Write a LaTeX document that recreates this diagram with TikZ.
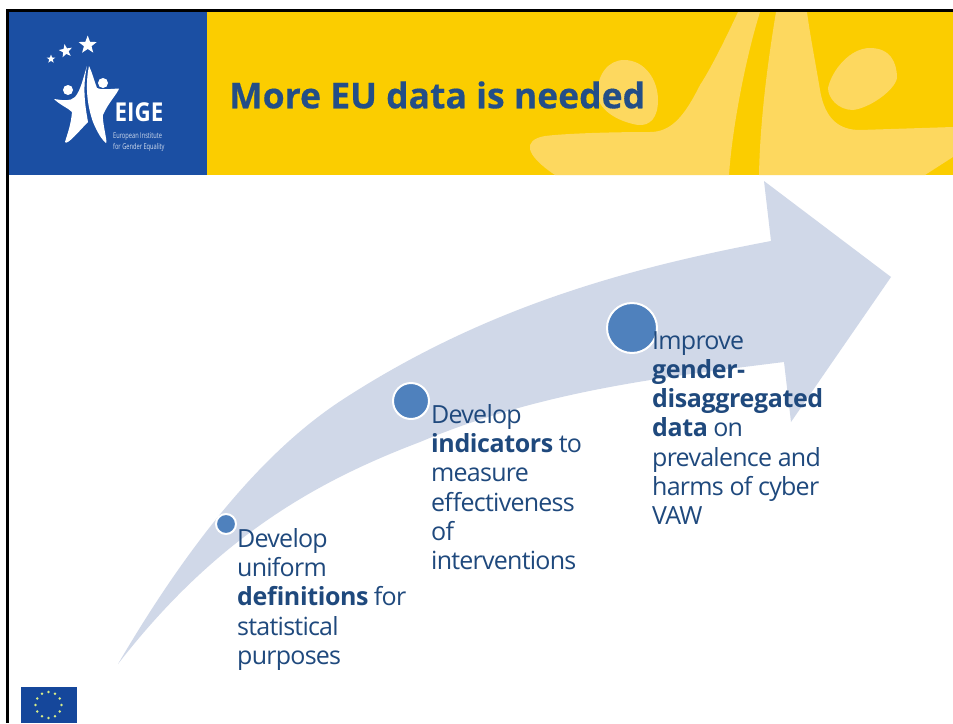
\documentclass[tikz,border=0pt]{standalone}
\usepackage{fontspec}
\setmainfont{Open Sans}
\newfontfamily\bodyfont[LetterSpace=-3,BoldFeatures={LetterSpace=-1.5}]{Open Sans}
\usetikzlibrary{shapes.geometric}
\definecolor{eigeblue}{HTML}{1B4FA3}
\definecolor{eigeyellow}{HTML}{FBCD00}
\definecolor{paleyellow}{HTML}{FDD85F}
\definecolor{titleblue}{HTML}{234E87}
\definecolor{arrowfill}{HTML}{D0D8E8}
\definecolor{dotblue}{HTML}{4F81BD}
\definecolor{textblue}{HTML}{1F497D}
\definecolor{flagblue}{HTML}{15479B}
\tikzset{
  dotcircle/.style={circle,fill=dotblue,draw=white,line width=2pt,inner sep=0pt},
  bodytext/.style={anchor=north west,inner sep=0pt,align=left,text=textblue,font=\bodyfont\fontsize{25}{29.3}\selectfont},
  flagstar/.style={circle,fill=white!60!yellow!85!green,inner sep=0pt,minimum size=2.6pt},
  logostar/.style={star,star points=5,star point ratio=2.4,fill=white,inner sep=0pt,minimum size=#1},
}
\begin{document}
\begin{tikzpicture}[x=1pt,y=-1pt]
\useasboundingbox (0,0) rectangle (953,723);
\fill[white] (0,0) rectangle (953,723);
% header
\fill[eigeyellow] (207,12) rectangle (953,175);
\fill[eigeblue] (8,12) rectangle (207,175);
% pale star
\begin{scope}
\clip (207,12) rectangle (953,175);
\fill[paleyellow] (738,12) .. controls (725,40) and (710,70) .. (700,85)
  .. controls (685,115) and (672,132) .. (650,132)
  .. controls (620,132) and (570,133) .. (545,136)
  .. controls (522,140) and (525,155) .. (555,175)
  -- (729,175) .. controls (732,130) and (745,60) .. (760,12) -- cycle;
\fill[paleyellow] (776,12) .. controls (768,60) and (760,120) .. (759,175)
  -- (925,175) -- (953,157) -- (953,127)
  -- (860,130) .. controls (840,130) and (825,120) .. (820,90)
  .. controls (815,60) and (810,35) .. (807,12) -- cycle;
\fill[paleyellow] (624,60) .. controls (645,60) and (658,80) .. (658,100)
  .. controls (658,118) and (650,126) .. (638,125)
  .. controls (620,122) and (600,112) .. (597,95)
  .. controls (597,75) and (608,60) .. (624,60) -- cycle;
\fill[paleyellow] (870,48) .. controls (890,48) and (897,62) .. (897,78)
  .. controls (895,90) and (870,108) .. (853,110)
  .. controls (838,110) and (828,98) .. (828,88)
  .. controls (832,70) and (850,48) .. (870,48) -- cycle;
\end{scope}
% black frame
\fill[black] (6,9) rectangle (953,12);
\fill[black] (6,9) rectangle (8.5,723);
% logo
\node[logostar=19pt] at (87.7,45) {};
\node[logostar=14pt,rotate=10] at (65.7,51) {};
\node[logostar=9pt] at (51,59) {};
\fill[white] (87,66) .. controls (83,78) and (81,90) .. (75,97)
  .. controls (70,102) and (62,100) .. (54,99)
  .. controls (60,105) and (68,108) .. (72,112)
  .. controls (71,125) and (67,135) .. (65,142)
  .. controls (67,146) and (80,130) .. (88,122)
  .. controls (84,100) and (83,85) .. (87,66) -- cycle;
\fill[white] (89,66) .. controls (85,85) and (87,105) .. (93,122)
  .. controls (97,132) and (102,140) .. (106,143)
  .. controls (108,143) and (102,122) .. (103,115)
  .. controls (108,103) and (118,93) .. (119,88.5)
  .. controls (110,89) and (100,90) .. (97,88)
  .. controls (94,80) and (92,72) .. (89,66) -- cycle;
\fill[white] (68,90) circle (5);
\fill[white] (103,83) circle (5);
\node[inner sep=0pt,text=white,xscale=.86,font=\bfseries\fontsize{26}{26}\selectfont] (eige) at (139,112) {EIGE};
\node[inner sep=0pt,anchor=north west,align=left,text=white,opacity=.8,xscale=.71,font=\fontsize{8}{11}\selectfont] (eigetext) at (113,132) {European Institute\\for Gender Equality};
% title
\node[anchor=west,inner sep=0pt,text=titleblue,font=\bfseries\fontsize{35.5}{35.5}\selectfont] (title) at (229,95) {\addfontfeature{FakeBold=0.4}More EU data is needed};
% arrow
\fill[arrowfill] (118,664) .. controls (193,536) and (267,449) .. (342,400)
  .. controls (485,307) and (628,268) .. (771,241)
  -- (764,181) -- (891,277) -- (791,422) -- (784,362)
  .. controls (663,377) and (541,391) .. (420,442)
  .. controls (320,480) and (218,535) .. (118,664) -- cycle;
% circles
\node[dotcircle,minimum size=20pt] (c1) at (226,524) {};
\node[dotcircle,minimum size=36pt] (c2) at (411,401) {};
\node[dotcircle,minimum size=50pt] (c3) at (632,328) {};
% text
\node[bodytext] (t1) at (237,528) {Develop\\uniform\\\textbf{definitions} for\\statistical\\purposes};
\node[bodytext] (t2) at (431,404) {Develop\\\textbf{indicators} to\\measure\\effectiveness\\of\\interventions};
\node[bodytext] (t3) at (652,331) {Improve\\\textbf{gender-}\\\textbf{disaggregated}\\\textbf{data} on\\prevalence and\\harms of cyber\\VAW};
% flag
\fill[flagblue] (20.5,686.5) rectangle (77,723);
\foreach \a in {0,30,...,330}
  \node[flagstar] at ({48.5+13*cos(\a)},{705+13*sin(\a)}) {};
\end{tikzpicture}
\end{document}
